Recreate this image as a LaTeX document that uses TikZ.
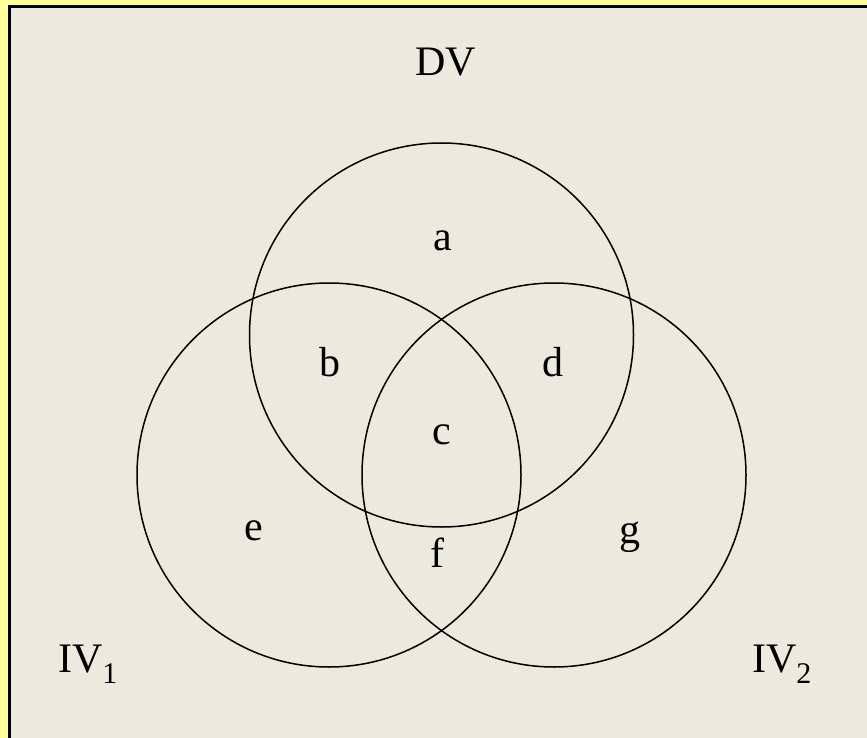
\documentclass[tikz,border=0pt]{standalone}
\usepackage{fontspec}
\setmainfont{Liberation Serif}
\definecolor{bgbeige}{HTML}{ECE9DF}
\definecolor{stripyellow}{HTML}{FFFF99}
\begin{document}
\begin{tikzpicture}[x=1pt,y=-1pt,
  venn/.style={draw=black,line width=1.5pt},
  lbl/.style={font=\fontsize{42}{46}\selectfont,inner sep=0pt,anchor=base}]
\useasboundingbox (0,0) rectangle (867,738);
\fill[stripyellow] (0,0) rectangle (867,738);
\fill[bgbeige] (9.5,6.5) rectangle (870,741);
\draw[line width=3pt] (9.5,741) -- (9.5,6.5) -- (870,6.5);
\draw[venn] (441.5,335) circle (192);
\draw[venn] (329,475) circle (192);
\draw[venn] (554,475) circle (192);
\node[lbl] (dv) at (446,76) {DV};
\node[lbl] (a) at (443,250) {a};
\node[lbl] (b) at (330,376) {b};
\node[lbl] (d) at (553,376) {d};
\node[lbl] (c) at (442,444) {c};
\node[lbl] (e) at (254,540) {e};
\node[lbl] (f) at (437,567) {f};
\node[lbl] (g) at (630,543) {g};
\node[lbl] (iv1) at (88,672) {IV$_{\mbox{\fontsize{30}{34}\selectfont 1}}$};
\node[lbl] (iv2) at (782,672) {IV$_{\mbox{\fontsize{30}{34}\selectfont 2}}$};
\end{tikzpicture}
\end{document}
